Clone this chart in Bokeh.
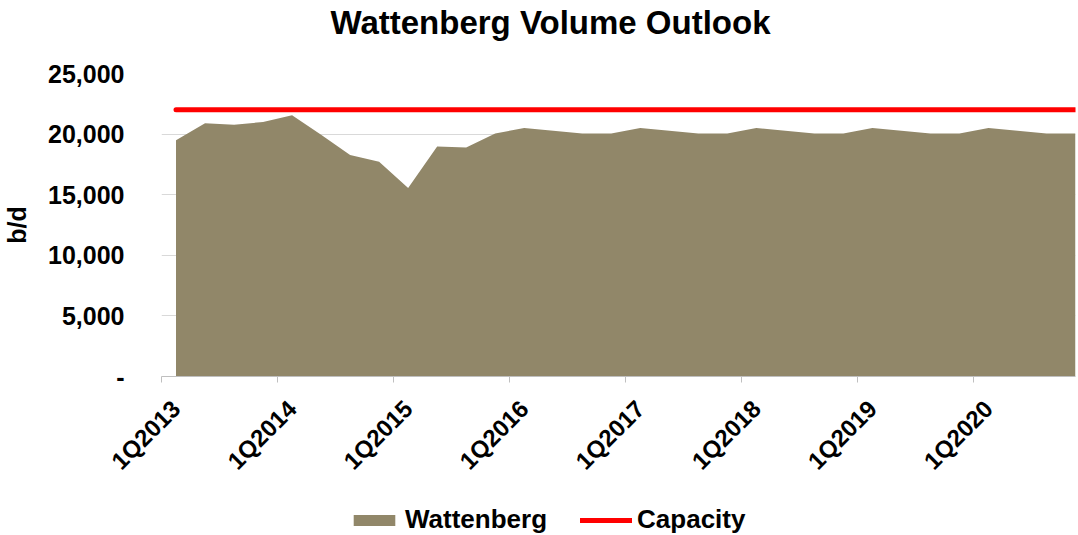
import math
from bokeh.plotting import figure
from bokeh.layouts import column
from bokeh.models import (ColumnDataSource, FixedTicker, NumeralTickFormatter, Legend, LegendItem,
                          Range1d, Label)
from bokeh.embed import file_html
from bokeh.resources import INLINE

quarters = [f"{q}Q{y}" for y in range(2013, 2021) for q in range(1, 5)]
wattenberg = [19500, 20900, 20770, 21000,
              21560, 19940, 18270, 17720,
              15550, 18980, 18900, 20050,
              20500, 20280, 20050, 20050,
              20500, 20280, 20050, 20050,
              20500, 20280, 20050, 20050,
              20500, 20280, 20050, 20050,
              20500, 20280, 20050, 20050]
capacity_value = 22000
capacity = [capacity_value for _ in quarters]
y_ticks = [0, 5000, 10000, 15000, 20000, 25000]
title_text = "Wattenberg Volume Outlook"
series_names = ["Wattenberg", "Capacity"]

idx = list(range(len(quarters)))
src = ColumnDataSource(dict(x=idx, w=wattenberg, c=capacity, zero=[0] * len(idx)))

FONT = "Liberation Sans"
AREA = "#918769"
RED = "#ff0000"

# ---------- title strip ----------
pt = figure(width=1078, height=58, output_backend="svg", toolbar_location=None,
            x_range=Range1d(0, 1), y_range=Range1d(0, 1),
            x_axis_location=None, y_axis_location=None, min_border=0)
pt.outline_line_color = None
pt.grid.visible = False
pt.add_layout(Label(x=389, y=36, x_units="screen", y_units="screen", text=title_text,
                    text_font=FONT, text_font_size="33px", text_font_style="bold",
                    text_color="black", text_align="center", text_baseline="middle"))

# ---------- main chart ----------
p = figure(width=1078, height=444, output_backend="svg", toolbar_location=None,
           x_range=Range1d(-0.5, len(idx) - 1), y_range=Range1d(0, 25000),
           min_border_left=161, min_border_right=3, min_border_top=15, min_border_bottom=126)
p.outline_line_color = None

p.varea(x="x", y1="zero", y2="w", source=src, fill_color=AREA, fill_alpha=1.0)
p.line(x="x", y="c", source=src, line_color=RED, line_width=5, line_cap="round")

xa = p.xaxis[0]
major = [i for i in idx if i % 4 == 0]
xa.ticker = FixedTicker(ticks=major, minor_ticks=[i - 0.5 for i in major])
xa.major_label_overrides = {i: quarters[i] for i in major}
xa.major_label_orientation = math.pi / 4
xa.major_tick_line_color = None
xa.minor_tick_line_color = "#bfbfbf"
xa.minor_tick_out = 6
xa.minor_tick_in = 0
xa.axis_line_color = "#bfbfbf"
xa.major_label_text_font = FONT
xa.major_label_text_font_size = "24px"
xa.major_label_text_font_style = "bold"
xa.major_label_text_color = "black"
xa.major_label_standoff = 22

ya = p.yaxis[0]
ya.ticker = FixedTicker(ticks=y_ticks)
ya.formatter = NumeralTickFormatter(format="0,0")
ya.major_label_overrides = {0: "-"}
ya.axis_line_color = None
ya.major_tick_line_color = None
ya.minor_tick_line_color = None
ya.major_label_text_font = FONT
ya.major_label_text_font_size = "25px"
ya.major_label_text_font_style = "bold"
ya.major_label_text_color = "black"
ya.major_label_standoff = 31
ya.axis_label = "b/d"
ya.axis_label_text_font = FONT
ya.axis_label_text_font_size = "25px"
ya.axis_label_text_font_style = "bold"
ya.axis_label_text_color = "black"
ya.axis_label_standoff = 14

p.xgrid.grid_line_color = None
p.ygrid.ticker = FixedTicker(ticks=y_ticks)
p.ygrid.grid_line_color = "#d9d9d9"
p.ygrid.grid_line_width = 1

# ---------- legend strip ----------
pl = figure(width=1078, height=33, output_backend="svg", toolbar_location=None,
            x_range=Range1d(-0.5, len(idx) - 1), y_range=Range1d(-2, -1),
            x_axis_location=None, y_axis_location=None, min_border=0)
pl.outline_line_color = None
pl.grid.visible = False
lar = pl.varea(x="x", y1="zero", y2="w", source=src, fill_color=AREA, fill_alpha=1.0)
lln = pl.line(x="x", y="c", source=src, line_color=RED, line_width=5, line_cap="round")
legend = Legend(items=[LegendItem(label=series_names[0], renderers=[lar]),
                       LegendItem(label=series_names[1], renderers=[lln])],
                orientation="horizontal", location=(187, 0),
                glyph_width=52, glyph_height=14, label_standoff=5, spacing=33,
                border_line_color=None, background_fill_alpha=0,
                label_text_font=FONT, label_text_font_size="26px",
                label_text_font_style="bold", label_text_color="black",
                padding=0, margin=0)
pl.add_layout(legend, "center")

layout = column(pt, p, pl, spacing=0)
open("out.html", "w").write(file_html(layout, INLINE))
